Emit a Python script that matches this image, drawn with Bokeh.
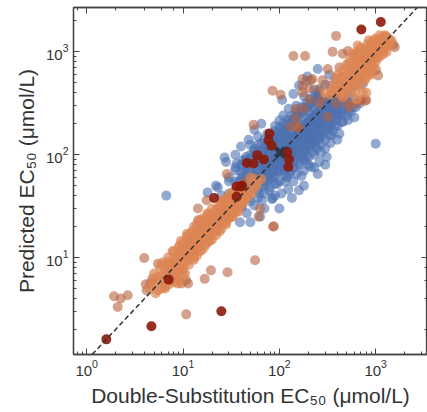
from bokeh.plotting import figure
from bokeh.models import LogAxis, Slope, CustomJSTickFormatter, Range1d, ColumnDataSource
from bokeh.embed import file_html
from bokeh.resources import INLINE

# ---------------- data (EC50, umol/L) ----------------
blue_pts = [
    (250,680),(196,575),(380,545),(535,505),(680,545),(735,490),(600,455),(300,480),(230,430),(420,420),(160,470),(190,520),(330,600),
    (580,360),(390,360),(220,290),(580,290),(680,315),(107,340),(150,300),(270,330),(320,280),(460,300),(180,370),(250,385),(140,390),(370,310),(480,350),(200,260),(290,260),(410,255),(520,270),(125,280),
    (515,217),(455,208),(330,230),(260,200),(200,230),(150,210),(110,240),(90,190),(75,160),(120,170),(170,180),(230,170),(300,175),(380,190),(420,160),(280,150),(210,150),(140,150),(100,215),(65,200),(55,175),(350,155),(160,240),(240,245),(185,200),(130,195),(95,160),(600,230),(60,150),(330,180),
    (40,120),(48,140),(55,110),(65,130),(75,100),(85,140),(100,120),(115,135),(130,110),(150,125),(170,140),(190,110),(210,130),(240,120),(260,140),(300,115),(340,130),(1000,128),(45,95),(60,95),(70,115),(90,105),(110,95),(125,145),(140,100),(160,115),(180,95),(200,145),(230,100),(270,105),(310,95),(400,140),(50,125),(80,125),(95,135),(35,100),(220,135),
    (28,85),(35,75),(42,88),(50,70),(58,80),(65,90),(72,65),(80,75),(90,85),(100,70),(110,80),(125,65),(140,75),(160,85),(180,70),(200,80),(230,75),(260,85),(212,76),(27,94),(36,82),(45,65),(55,60),(70,85),(85,60),(105,88),(120,60),(150,65),(170,62),(190,88),(300,80),(250,65),
    (22,50),(25,40),(30,55),(35,45),(40,58),(48,38),(55,50),(62,42),(70,55),(78,45),(85,38),(95,52),(105,42),(124,46),(140,55),(160,45),(30,35),(42,48),(52,58),(66,36),(75,60),(90,40),(115,55),(135,38),(180,50),(6.7,40),(18,43),(23,48),
    (39,22),(46,27),(63,25),(41,31),(84,37),(26,28),(33,30),(55,32),(70,30),(100,30),(30,25),(50,22),
    (60,70),(70,75),(80,90),(90,95),(100,100),(110,110),(120,115),(130,125),(140,135),(150,145),(160,160),(170,165),(180,175),(190,185),(200,190),(220,210),(240,220),(260,240),(280,260),(300,270),(320,300),(350,320),(380,340),(420,380),(460,410),
    (50,60),(45,52),(40,45),(35,40),(30,42),(65,55),(75,72),(85,80),(95,90),(105,105),(115,100),(125,120),(135,115),(145,130),(155,140),(165,150),(175,155),(195,170),(210,185),(230,200),(250,215),(270,230),(290,240),(310,250),(340,270),(370,290),(400,310),
    (60,85),(70,95),(80,105),(90,115),(100,130),(110,140),(120,150),(130,160),(150,170),(170,195),(190,210),(210,220),(230,240),(250,260),(270,280),(290,300),(310,330),(340,350),
    (55,48),(65,50),(75,55),(85,65),(95,70),(105,75),(115,85),(125,90),(135,95),(150,105),(165,115),(180,125),(200,125),(220,150),(240,160),(260,170),(280,190),(300,200),(330,210),(360,230),(400,250),(440,280),(480,310),(520,330),
    (45,60),(50,55),(55,65),(60,60),(65,75),(70,68),(75,82),(80,78),(85,92),(90,88),(95,100),(100,95),(105,115),(110,105),(115,122),(120,110),(125,130),(130,118),(135,140),(140,128),(145,150),(150,138),(155,160),(160,148),(165,170),(170,158),(175,180),(180,165),(185,190),(190,175),(195,200),(200,185),(210,205),(220,195),(230,220),(240,210),(250,235),(260,225),(270,250),(280,240),(300,260),(320,280),(340,300),(360,310),(390,330),(420,350),
    (38,55),(42,62),(48,70),(52,78),(58,85),(62,92),(68,100),(72,108),(78,115),(82,122),(88,130),(92,138),(98,145),(102,152),(108,160),(112,168),(118,178),(122,185),(128,192),(132,200),(138,210),(142,220),(148,228),(155,235),(165,250),(175,262),(185,275),(195,290),(210,305),(225,320),(240,340),(255,355),
    (60,45),(70,50),(80,58),(90,62),(100,68),(110,72),(120,78),(130,82),(140,88),(150,92),(160,98),(170,102),(180,108),(190,115),(200,118),(215,125),(230,132),(245,140),(260,150),(275,160),(290,170),(310,180),(330,195),(350,205),(375,215),(400,230),(430,245),(460,260),
    (48,45),(58,52),(68,62),(78,68),(88,75),(98,82),(108,90),(118,98),(128,104),(138,112),(148,120),(158,128),(168,135),(178,142),(188,150),(198,158),(208,165),(218,172),(228,180),(238,188),(248,195),(265,205),(285,215),(305,225),(325,240),(355,255),(385,270),
    (42,75),(50,90),(58,100),(66,112),(74,125),(82,135),(90,150),(98,165),(108,180),(118,195),(130,212),(142,230),(155,250),(170,270),(188,290),(205,310),(225,335),(250,360),
    (35,55),(40,68),(46,80),(52,95),(60,108),
    (30,60),(35,70),(40,80),(45,90),(50,100),(55,115),(60,125),(70,140),(80,155),(90,170),(100,185),(110,200),(120,220),(135,240),(150,260),(170,290),(190,320),(210,350),(235,380),(260,420),
    (50,35),(60,38),(70,42),(80,48),(90,52),(100,55),(115,62),(130,68),(145,75),(160,80),(180,88),(200,95),(220,105),(245,115),(270,125),(300,140),(330,155),(360,170),(400,190),(450,210),(500,240),(550,260),(620,290),
    (62,66),(72,80),(82,86),(92,102),(102,108),(112,118),(122,126),(132,136),(142,146),(152,156),(162,166),(172,176),(182,186),(192,196),(205,212),(215,225),(235,245),(255,265),(275,285),(295,305),(315,325),(335,345),
    (55,62),(64,58),(74,66),(84,72),(94,78),(104,84),(114,92),(124,100),(134,108),(144,116),(154,124),(164,132),(174,138),(184,146),(194,152),(204,160),(224,176),(244,192),(264,210),(284,228),(304,246),(324,262),(344,282),(364,300),(394,320),(430,340),(470,370),(510,400),
]

orange_muted_pts = [
    (388,1430),(185,910),(140,910),(318,680),(220,545),(174,545),(212,530),(280,530),(174,465),(205,440),(260,437),(330,470),(174,405),(85,418),(103,382),(205,345),(280,360),(260,315),(148,280),(180,280),(148,225),(130,188),(160,182),(318,233),(54,195),(153,186),(1525,1180),(1580,1110),(1060,590),(1010,665),(800,340),(710,340),(775,335),(635,318),(515,318),(535,290),(390,315),(420,705),(357,1000),(455,960),(515,1020),
    (63,30),(61,25),(88,20),(56,9.4),(86,20),(28.5,65),(17.6,36),(14.3,30),(14.3,23),(1.92,4.2),(2.26,4.0),(2.67,4.3),(2.1,3.3),(3.96,9.9),(4.1,5.5),(4.6,5.6),(4.2,4.8),(10.8,2.8),(16.8,6.2),(19.5,7.5),(29,7.2),(5.9,6.0),(5.5,8.7),(7.5,8.7),(8.8,6.0),(9.6,5.6),(10.8,6.0),(11.3,5.6),(40,32),(6.5,5.2),(4.8,6.2),(32,40),(27,35),(22,29),(45,55),(50,45),
]

orange_pts = [
    (1190,1400),(940,1280),(830,1190),(735,1060),(655,1020),(580,960),(635,790),(800,820),(940,890),(910,630),(735,610),(580,630),(495,740),(390,420),(495,455),(735,405),(800,400),(635,345),(455,360),(600,700),(700,800),(850,950),(1000,1100),(1100,1300),(1250,1450),(650,560),(750,700),(900,780),(1000,950),(550,520),(620,480),(700,560),(450,540),(500,600),(600,850),(700,900),(850,1050),(1150,1200),(950,1150),(800,700),(880,600),(760,520),(1200,1050),(1350,1350),(1400,1250),(400,500),(350,420),(430,390),(550,400),(480,480),(380,460),(300,400),(1050,1250),(900,1000),(780,880),(680,650),(560,580),
    (500,520),(560,640),(620,700),(680,760),(740,830),(800,900),(860,980),(920,1050),(980,1120),(1050,1180),(1120,1260),(1180,1320),(520,450),(600,540),(680,620),(760,680),(840,760),(920,840),(1000,900),(1080,980),(1160,1080),(1250,1150),(1300,1200),(450,480),(420,440),(380,400),(340,380),(470,420),(640,600),(720,740),(780,780),(860,860),(960,990),(1020,1020),(650,900),(750,950),(600,500),
    (450,650),(520,780),(600,950),(700,1100),(850,1300),(400,600),(550,850),(650,1150),(380,560),(900,700),(1000,800),(1100,900),(1200,950),(1300,1000),(950,720),(1050,870),(1150,1000),(1250,1100),(850,620),(700,480),(800,560),(620,420),(560,470),(480,380),(1400,1150),(1300,1400),(1450,1300),(1000,1350),(1100,1450),(900,1200),(800,1050),(700,1000),(620,900),(520,700),(460,580),
    (5,5.5),(5.5,6.5),(6,5),(6.5,7.5),(7,6.5),(7.5,8.5),(8,7),(8.5,9.5),(9,8),(9.5,10.5),(10,9),(10.5,12),(11,10),(11.5,13),(12,11),(12.5,14),(13,12),(13.5,15.5),(14,13),(15,17),(15.5,14),(16,18.5),(17,15.5),(18,20),(18.5,17),(19,22),(20,19),(21,24),(22,21),(23,26),(24,22),(25,28),(26,24),(27,30),(28,26),(30,33),(31,29),(33,36),(35,33),(37,40),(39,37),(42,45),(45,42),(48,50),
    (6.2,9),(7.8,11.5),(9.2,13),(12,17),(8,5.8),(10,7.2),(13,9.5),(16,12),(20,15),(24,18),(30,24),(36,30),(5.8,8),(11,15.5),(14,19.5),(17.5,24),(9,7.2),(7,9),(4.5,5),(5.2,4.5),(7.2,5.5),(12.5,10),(18,14),(8.8,5.6),(10.5,7),(9.5,6),(14,10.5),
    (25,35),(30,40),(20,30),(35,45),(40,50),(38,28),(28,22),(22,18),(33,25),(44,36),(55,48),(60,55),(18,26),(15,22),
    (6,6.5),(6.8,7.2),(7.5,7.8),(8.2,8.5),(9,9.5),(9.8,10.2),(10.5,11),(11.5,11.8),(12.5,12.8),(13.5,14),(14.5,15.2),(15.5,16.5),(17,17.5),(18.5,19),(20,21),(21.5,22.5),(23,24),(25,25.5),(27,27.5),(29,30),(31,32),(34,34.5),(37,37),(40,41),
    (7,8),(8,9.8),(9,11),(10,12.5),(11,13.8),(12,15),(13,16.5),(14,18),(15.5,20),(17,22),(19,25),(21,27),(23,30),(26,33),(29,37),(32,42),
    (8,6.5),(9,7.5),(10,8.3),(11,9.2),(12,10),(13,11),(14,12),(15.5,13),(17,14.5),(19,16),(21,17.5),(23,19.5),(26,21.5),(29,24),(33,27),(37,31),(42,36),(47,40),
    (16,20.5),(19,19.5),(22,24),(24,27),(26,28.5),(28,31),(20,24),(13,13.5),(11,12),
    (5,7),(6,8.5),(7,10),(8,11.5),(9,12.5),(10,14),(11,16),(12.5,18),(14,21),(16,24),(18,27),(6.5,5),(7.5,6),(8.5,6.5),(10,7.8),(11.5,8.5),(13,10),(15,11.5),(17,13),(19,14.5),(22,16.5),(25,19),(28,21),(32,25),(36,28),(41,33),(46,38),(52,42),(9.5,14.5),(11,17),(13,20),(15,23),(24,32),(27,37),(34,44),(38,48),(5.5,4.8),(6.5,6),(4.8,5.8),(50,60),(55,58),(58,50),(65,58),
]

red_pts = [
    (1130,1950),(710,1650),(79,161),(77,138),(83,122),(59,99),(46,83),(54,82),(69,90),(121,106),(126,90),(124,76),
    (40,49),(36,49),(41,50),(21,38),(36,39),(7.1,6.1),(25,3.0),(4.7,2.15),(1.6,1.6),
]

center_pt = [(102,105)]

x_range = (0.73, 3450)
y_range = (1.14, 2700)

x_label = "Double-Substitution EC₅₀ (μmol/L)"
y_label = "Predicted EC₅₀ (μmol/L)"


def src(pts):
    return ColumnDataSource(dict(x=[a for a, b in pts], y=[b for a, b in pts]))


FONT = "Liberation Sans"
AX = "#444444"
TXT = "#333333"

p = figure(width=427, height=412, x_axis_type="log", y_axis_type="log",
           x_range=Range1d(*x_range), y_range=Range1d(*y_range),
           output_backend="svg", toolbar_location=None,
           min_border_left=73, min_border_right=0, min_border_top=7, min_border_bottom=58)
p.grid.visible = False
p.outline_line_color = AX
p.outline_line_width = 1.3
p.background_fill_color = "white"
p.border_fill_color = "white"

p.scatter("x", "y", source=src(blue_pts), size=10, fill_color="#4C72B0", fill_alpha=0.6, line_color=None)
p.scatter("x", "y", source=src(orange_muted_pts), size=10, fill_color="#b5623f", fill_alpha=0.6, line_color=None)
p.scatter("x", "y", source=src(orange_pts), size=10, fill_color="#DD8452", fill_alpha=0.7, line_color=None)
p.scatter("x", "y", source=src(center_pt), marker="x", size=13, line_color="#2b3a4a", line_width=4.5)
p.scatter("x", "y", source=src(red_pts), size=10, fill_color="#8b1a0a", fill_alpha=0.9, line_color=None)

p.add_layout(Slope(gradient=1, y_intercept=0, line_color="#333333", line_dash="5 3", line_width=1.5))

bottom = p.below[0]
left = p.left[0]
top = LogAxis(formatter=CustomJSTickFormatter(code="return ''"))
right = LogAxis(formatter=CustomJSTickFormatter(code="return ''"))
p.add_layout(top, "above")
p.add_layout(right, "right")

for ax in [bottom, left, top, right]:
    ax.major_tick_in = 6
    ax.major_tick_out = 0
    ax.minor_tick_in = 3
    ax.minor_tick_out = 0
    ax.axis_line_color = AX
    ax.axis_line_width = 1.3
    ax.major_tick_line_color = AX
    ax.minor_tick_line_color = AX
    ax.major_label_text_font = FONT
    ax.major_label_text_color = TXT
    ax.major_label_text_font_size = "15px"
    ax.major_label_standoff = 5

for ax in [top, right]:
    ax.major_label_standoff = 0
    ax.major_label_text_font_size = "0px"

bottom.axis_label = x_label
left.axis_label = y_label
for ax in [bottom, left]:
    ax.axis_label_text_font = FONT
    ax.axis_label_text_font_style = "normal"
    ax.axis_label_text_font_size = "21px"
    ax.axis_label_text_color = TXT
    ax.axis_label_standoff = 5

open("out.html", "w").write(file_html(p, INLINE))
